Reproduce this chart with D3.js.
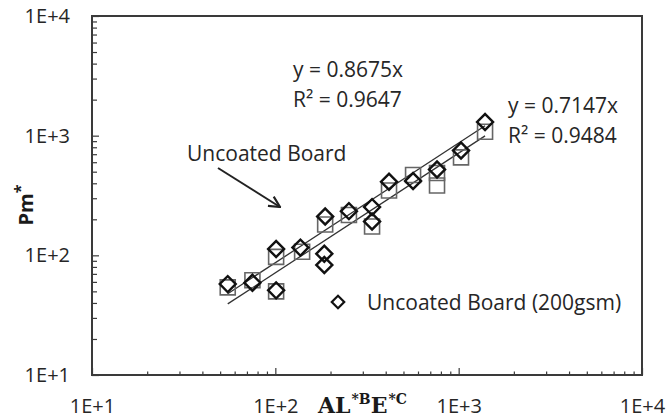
<!DOCTYPE html>
<html>
<head>
<meta charset="utf-8">
<script src="https://cdn.jsdelivr.net/npm/d3@7"></script>
<style>
  html, body { margin: 0; padding: 0; background: #fff; }
  svg { display: block; font-family: "Open Sans", sans-serif; }
</style>
</head>
<body>
<div id="chart"></div>
<script>
// Data (log-log)
const diamondX = [55, 75, 101, 101, 137, 187, 185, 185, 252, 337, 337, 417, 564, 762, 1030, 1393];
const diamondY = [57.5, 59, 51, 113, 116, 211, 103, 83, 234, 253, 192, 412, 418, 521, 751, 1299];
const squareX = [55, 75, 101, 101, 140, 187, 252, 337, 417, 564, 762, 762, 1030, 1393];
const squareY = [54, 62, 50, 97, 107, 181, 217, 174, 348, 469, 487, 383, 659, 1079];
const fitSlopes = [0.8675, 0.7147];
const fitR2 = ["0.9647", "0.9484"];
const decades = [10, 100, 1000, 10000];
const tickLabels = ["1E+1", "1E+2", "1E+3", "1E+4"];
const legendLabel = "Uncoated Board (200gsm)";
const arrowLabel = "Uncoated Board";

const W = 669, H = 420;
const m = { left: 92, right: 27, top: 16, bottom: 45 };

const svg = d3.select("#chart").append("svg")
    .attr("width", W).attr("height", H);

const x = d3.scaleLog().domain([10, 10000]).range([m.left, W - m.right]);
const y = d3.scaleLog().domain([10, 10000]).range([H - m.bottom, m.top]);

// all ticks 1..9 per decade
const allTicks = [];
decades.slice(0, 3).forEach(d => { for (let i = 1; i <= 9; i++) allTicks.push(d * i); });
allTicks.push(10000);
const isMajor = v => decades.includes(v);
const fmt = v => isMajor(v) ? tickLabels[decades.indexOf(v)] : "";

const axisColor = "#3a3a3a";
const textColor = "#262626";

// x axis (ticks point inward)
const gx = svg.append("g")
    .attr("transform", `translate(0,${H - m.bottom})`)
    .call(d3.axisBottom(x).tickValues(allTicks).tickFormat(fmt).tickSizeOuter(0).tickSizeInner(-4).tickPadding(24));
gx.selectAll(".tick line").attr("y2", d => isMajor(d) ? -7 : -3.5);

// y axis
const gy = svg.append("g")
    .attr("transform", `translate(${m.left},0)`)
    .call(d3.axisLeft(y).tickValues(allTicks).tickFormat(fmt).tickSizeOuter(0).tickSizeInner(-5).tickPadding(22));
gy.selectAll(".tick line").attr("x2", d => isMajor(d) ? 7 : 5);

[gx, gy].forEach(g => {
    g.select(".domain").remove();
    g.selectAll(".tick line").attr("stroke", axisColor).attr("stroke-width", 1.2);
    g.selectAll("text").attr("fill", textColor).style("font-size", "20px").attr("font-family", "Open Sans");
});

// plot frame
svg.append("rect")
    .attr("x", x(10)).attr("y", y(10000))
    .attr("width", x(10000) - x(10)).attr("height", y(10) - y(10000))
    .attr("fill", "none").attr("stroke", axisColor).attr("stroke-width", 2);

// trend lines
const series = [
    { xs: diamondX, k: fitSlopes[0] },
    { xs: squareX, k: fitSlopes[1] }
];
series.forEach(s => {
    const [x0, x1] = d3.extent(s.xs);
    svg.append("line")
        .attr("x1", x(x0)).attr("y1", y(s.k * x0))
        .attr("x2", x(x1)).attr("y2", y(s.k * x1))
        .attr("stroke", "#333").attr("stroke-width", 1.3);
});

// squares
svg.append("g").selectAll("path")
    .data(d3.zip(squareX, squareY))
    .join("path")
    .attr("d", d3.symbol(d3.symbolSquare, 225))
    .attr("transform", d => `translate(${x(d[0])},${y(d[1])})`)
    .attr("fill", "none").attr("stroke", "#666").attr("stroke-width", 1.6);

// diamonds
const diamond = d3.symbol(d3.symbolSquare, 128);
svg.append("g").selectAll("path")
    .data(d3.zip(diamondX, diamondY))
    .join("path")
    .attr("d", diamond)
    .attr("transform", d => `translate(${x(d[0])},${y(d[1])}) rotate(45)`)
    .attr("fill", "none").attr("stroke", "#111").attr("stroke-width", 2.4);

// fit annotations
const annot = [
    { x: 293, y: 77 },
    { x: 508, y: 113 }
];
annot.forEach((a, i) => {
    const t = svg.append("text").attr("fill", textColor).style("font-size", "21px");
    t.append("tspan").attr("x", a.x).attr("y", a.y).text(`y = ${fitSlopes[i]}x`);
    t.append("tspan").attr("x", a.x).attr("y", a.y + 30).text(`R² = ${fitR2[i]}`);
});

// arrow annotation
svg.append("defs").append("marker")
    .attr("id", "arr").attr("viewBox", "0 0 12 12").attr("refX", 11).attr("refY", 6)
    .attr("markerWidth", 13).attr("markerHeight", 13).attr("markerUnits", "userSpaceOnUse")
    .attr("orient", "auto")
    .append("path").attr("d", "M1,1 L11,6 L1,11").attr("fill", "none")
    .attr("stroke", "#222").attr("stroke-width", 2);
svg.append("line")
    .attr("x1", 218).attr("y1", 168).attr("x2", 280).attr("y2", 207)
    .attr("stroke", "#222").attr("stroke-width", 2).attr("marker-end", "url(#arr)");
svg.append("text").attr("x", 187).attr("y", 161).attr("fill", textColor)
    .style("font-size", "21px").text(arrowLabel);

// legend
svg.append("path")
    .attr("d", d3.symbol(d3.symbolSquare, 78))
    .attr("transform", "translate(338,302) rotate(45)")
    .attr("fill", "none").attr("stroke", "#111").attr("stroke-width", 2.2);
svg.append("text").attr("x", 367).attr("y", 310).attr("fill", textColor)
    .style("font-size", "21px").text(legendLabel);

// axis titles
const xt = svg.append("text")
    .attr("x", 318).attr("y", 413)
    .attr("font-family", "DejaVu Serif, serif").attr("font-weight", "bold")
    .attr("fill", "#1a1a1a").style("font-size", "22px");
xt.append("tspan").text("AL");
xt.append("tspan").attr("dy", -9).attr("dx", 1).style("font-size", "14px").text("*B");
xt.append("tspan").attr("dy", 9).text("E");
xt.append("tspan").attr("dy", -9).attr("dx", 1).style("font-size", "14px").text("*C");

const yt = svg.append("text")
    .attr("transform", "translate(33,205) rotate(-90)")
    .attr("text-anchor", "middle")
    .attr("font-weight", "bold").attr("fill", "#1a1a1a").style("font-size", "20px");
yt.append("tspan").text("Pm");
yt.append("tspan").attr("dy", -7).style("font-size", "16px").text("*");
</script>
</body>
</html>
